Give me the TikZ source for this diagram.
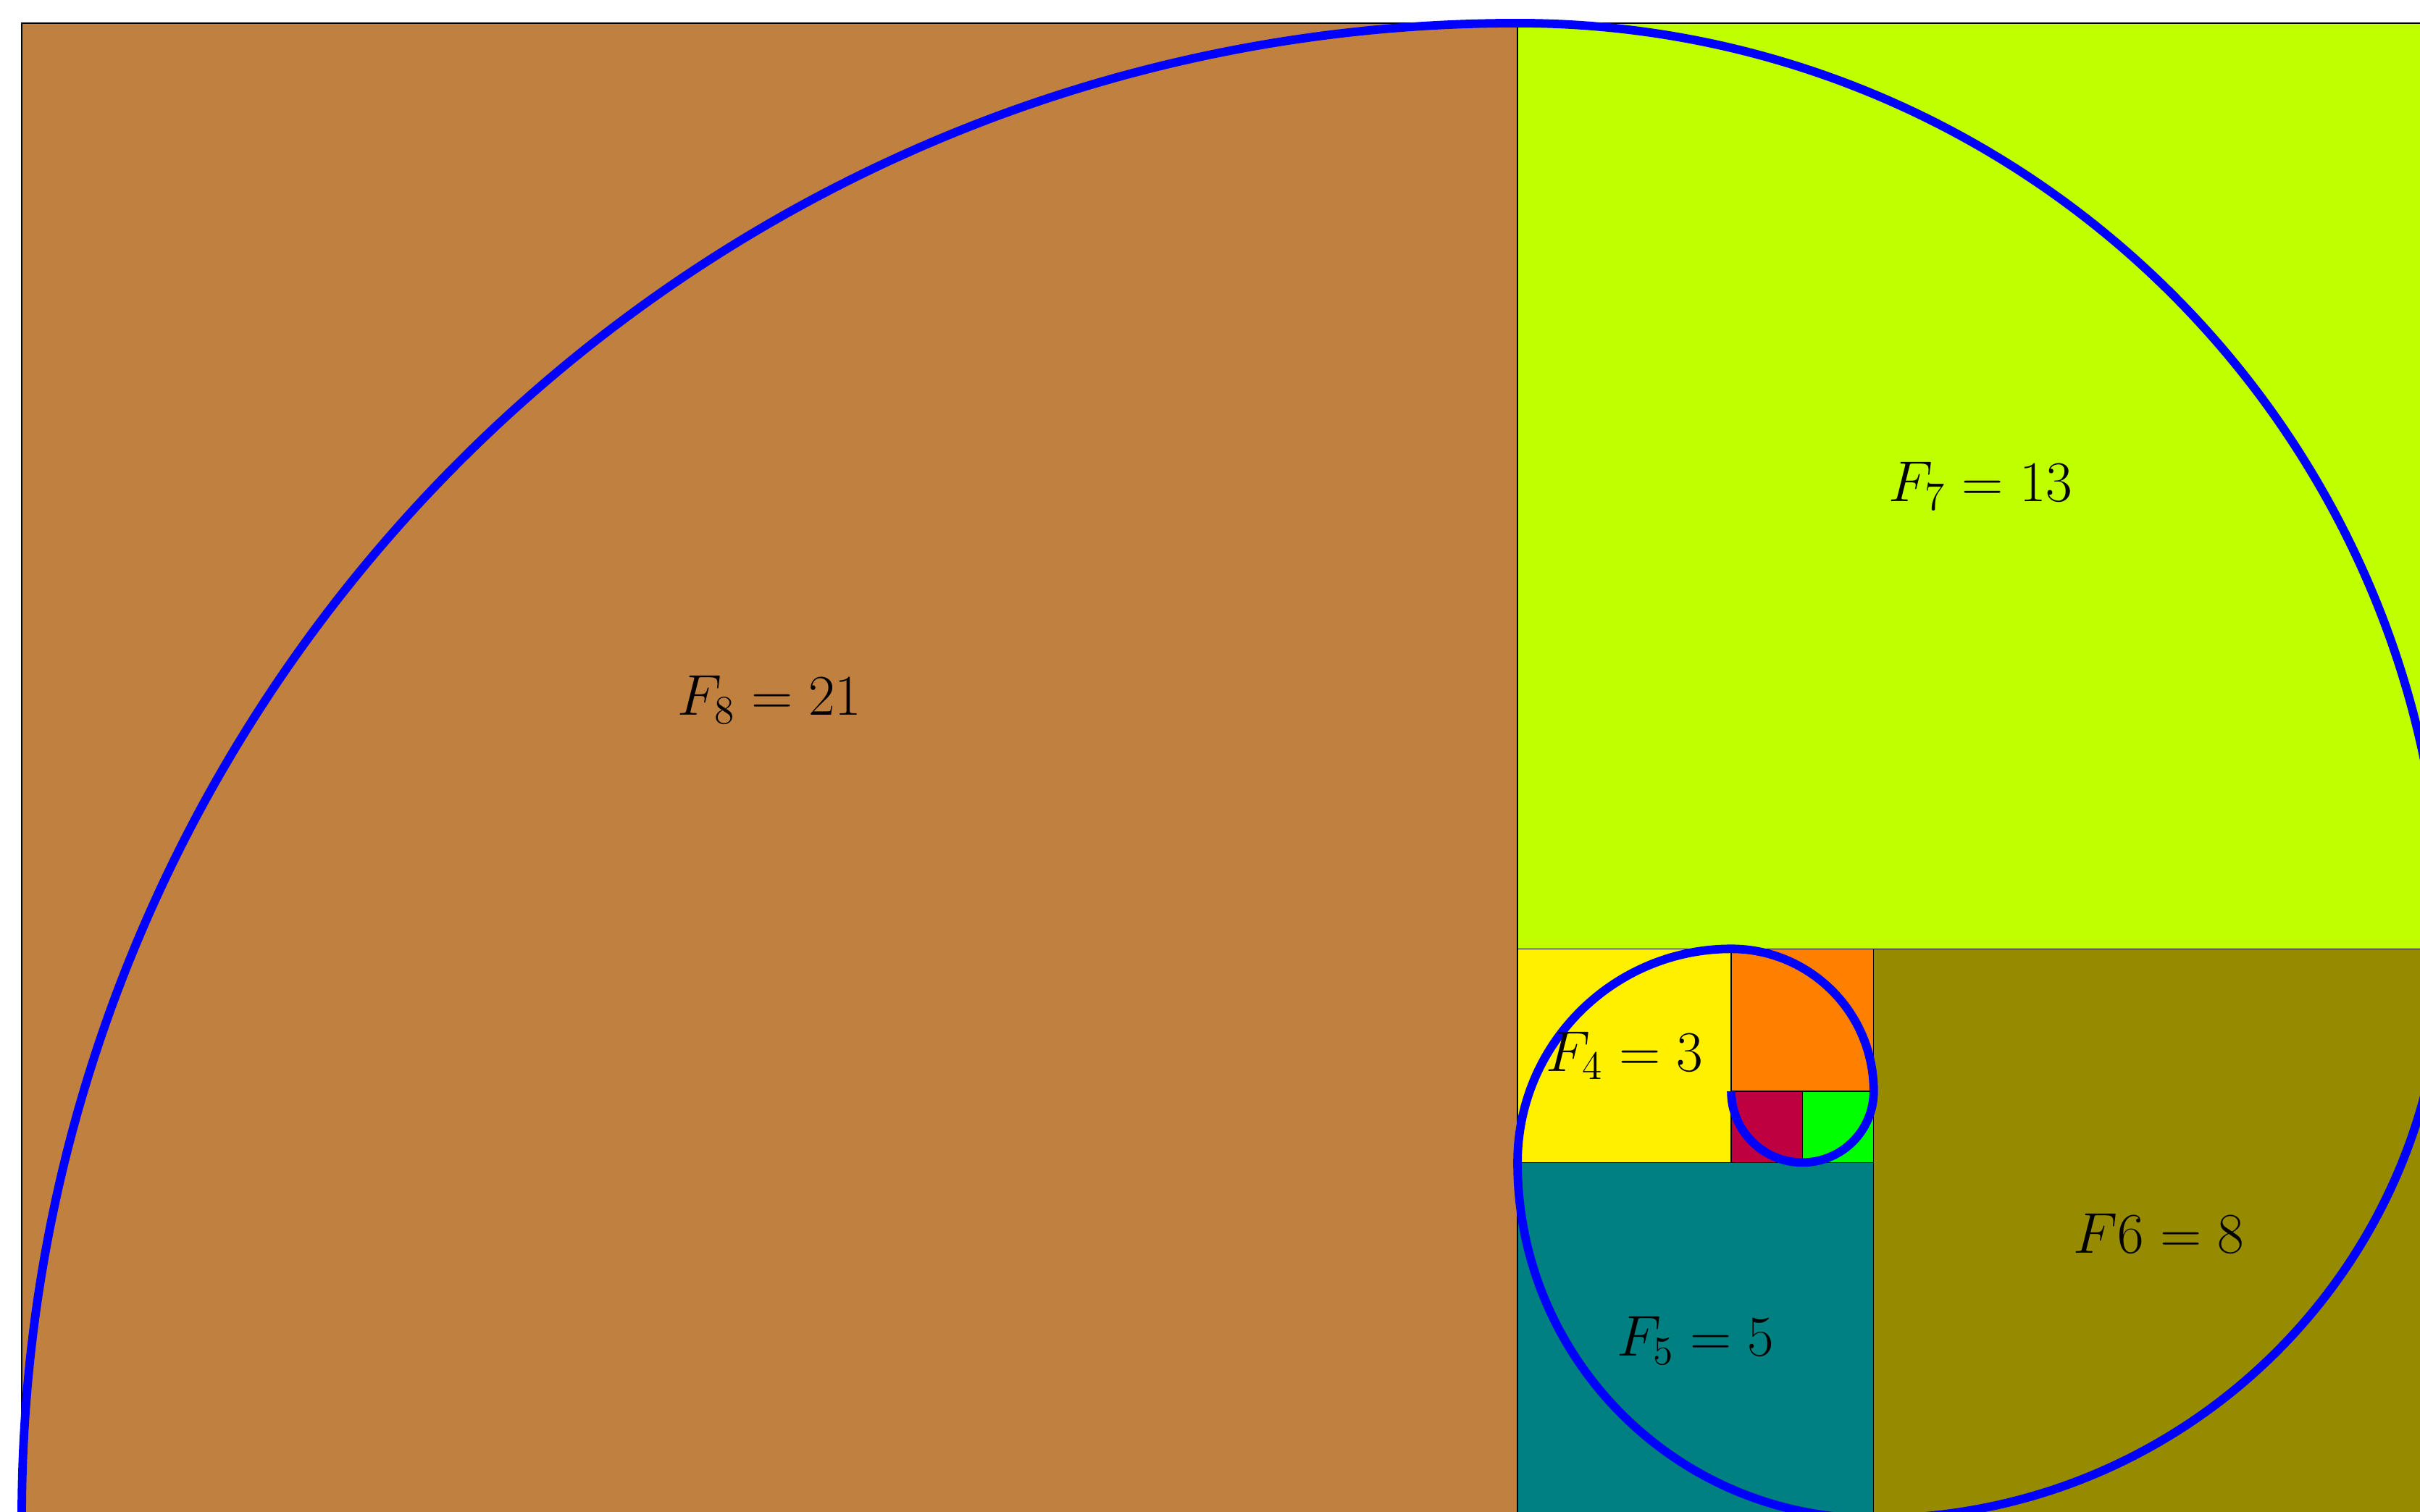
\RequirePackage{fix-cm}
\documentclass[tikz,border=0pt]{standalone}
\definecolor{myyellow}{RGB}{255,240,0}
\definecolor{myolive}{RGB}{150,139,0}
\begin{document}
\begin{tikzpicture}[x=1cm,y=1cm,
  sq/.style={draw=black, line width=0.4pt},
  spiral/.style={draw=blue, line width=0.12cm},
  lbl/.style={font=\fontsize{23}{28}\selectfont, inner sep=0pt}]
\path[use as bounding box, clip] (-0.305,0.092) rectangle (33.67,21.325);
\filldraw[sq, fill=brown] (0,0) rectangle (21,21);
\filldraw[sq, fill=lime] (21,8) rectangle (34,21);
\filldraw[sq, fill=myolive] (26,0) rectangle (34,8);
\filldraw[sq, fill=teal] (21,0) rectangle (26,5);
\filldraw[sq, fill=myyellow] (21,5) rectangle (24,8);
\filldraw[sq, fill=orange] (24,6) rectangle (26,8);
\filldraw[sq, fill=purple] (24,5) rectangle (25,6);
\filldraw[sq, fill=green] (25,5) rectangle (26,6);
\coordinate (s0) at (24,6);
\draw[spiral] (s0) arc[start angle=180, end angle=360, radius=1]
  arc[start angle=0, end angle=90, radius=2]
  arc[start angle=90, end angle=180, radius=3]
  arc[start angle=180, end angle=270, radius=5]
  arc[start angle=270, end angle=360, radius=8]
  arc[start angle=0, end angle=90, radius=13]
  arc[start angle=90, end angle=180, radius=21];
\node[lbl] (f8) at (10.5,11.5) {$F_8 = 21$};
\node[lbl] (f7) at (27.5,14.5) {$F_7 = 13$};
\node[lbl] (f6) at (30,4) {$F6 = 8$};
\node[lbl] (f5) at (23.5,2.5) {$F_5 = 5$};
\node[lbl] (f4) at (22.5,6.5) {$F_4 = 3$};
\end{tikzpicture}
\end{document}
